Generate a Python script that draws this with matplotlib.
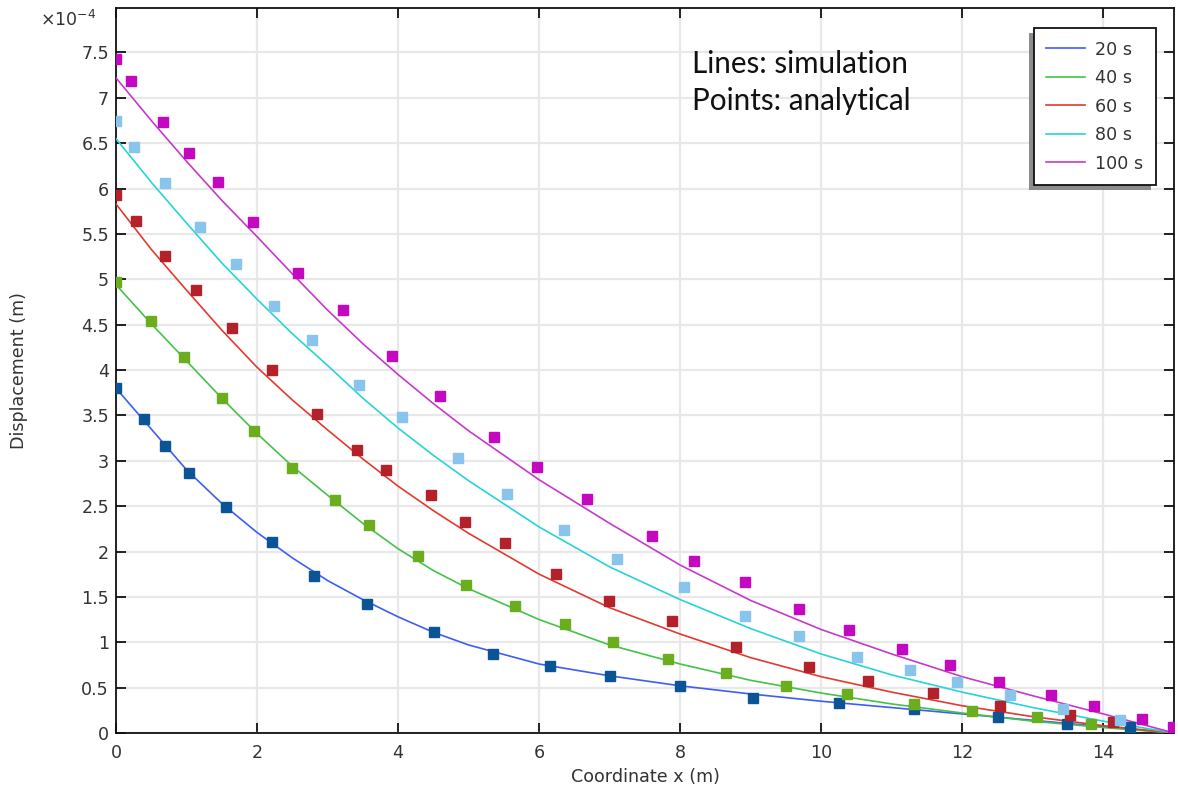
import matplotlib
matplotlib.use("Agg")
import matplotlib.pyplot as plt
from matplotlib.patches import Rectangle
from matplotlib.ticker import FuncFormatter, MultipleLocator

# ---- data (displacement in units of 1e-4 m) ----
series_labels = ["20 s", "40 s", "60 s", "80 s", "100 s"]

# simulation lines
line_x = [0, 0.5, 1, 1.5, 2, 2.5, 3, 3.5, 4, 4.5, 5, 6, 7, 8, 9, 10, 11, 12, 13, 14, 15]
sim_20 = [3.80, 3.35, 2.90, 2.53, 2.21, 1.93, 1.68, 1.47, 1.28, 1.11, 0.97, 0.76, 0.63, 0.52, 0.43, 0.35, 0.28, 0.21, 0.14, 0.07, 0.0]
sim_40 = [4.94, 4.51, 4.10, 3.69, 3.30, 2.94, 2.62, 2.31, 2.03, 1.79, 1.59, 1.25, 0.97, 0.76, 0.58, 0.44, 0.32, 0.22, 0.13, 0.06, 0.0]
sim_60 = [5.83, 5.33, 4.88, 4.44, 4.03, 3.67, 3.34, 3.02, 2.72, 2.45, 2.20, 1.75, 1.38, 1.09, 0.83, 0.62, 0.45, 0.30, 0.18, 0.08, 0.0]
sim_80 = [6.55, 6.07, 5.62, 5.18, 4.78, 4.40, 4.05, 3.69, 3.36, 3.06, 2.78, 2.27, 1.83, 1.47, 1.15, 0.87, 0.64, 0.45, 0.28, 0.13, 0.0]
sim_100 = [7.22, 6.75, 6.30, 5.87, 5.47, 5.06, 4.66, 4.29, 3.95, 3.63, 3.33, 2.79, 2.31, 1.85, 1.46, 1.14, 0.87, 0.62, 0.41, 0.21, 0.0]

# analytical points
ana_20_x = [0.0, 0.39, 0.70, 1.03, 1.56, 2.21, 2.81, 3.56, 4.51, 5.34, 6.16, 7.01, 7.99, 9.03, 10.25, 11.31, 12.50, 13.48, 14.38]
ana_20_y = [3.80, 3.46, 3.16, 2.87, 2.49, 2.10, 1.73, 1.42, 1.11, 0.87, 0.74, 0.63, 0.52, 0.39, 0.33, 0.26, 0.18, 0.10, 0.07]

ana_40_x = [0.0, 0.50, 0.96, 1.50, 1.95, 2.50, 3.10, 3.58, 4.28, 4.96, 5.65, 6.36, 7.04, 7.82, 8.65, 9.50, 10.37, 11.31, 12.13, 13.06, 13.83]
ana_40_y = [4.97, 4.54, 4.14, 3.69, 3.33, 2.92, 2.57, 2.29, 1.95, 1.63, 1.40, 1.20, 1.00, 0.82, 0.66, 0.52, 0.43, 0.32, 0.24, 0.18, 0.10]

ana_60_x = [0.0, 0.29, 0.70, 1.14, 1.65, 2.21, 2.85, 3.42, 3.83, 4.46, 4.95, 5.52, 6.24, 6.99, 7.88, 8.79, 9.83, 10.66, 11.58, 12.54, 13.52, 14.14]
ana_60_y = [5.93, 5.64, 5.26, 4.88, 4.46, 4.00, 3.52, 3.12, 2.90, 2.62, 2.33, 2.09, 1.75, 1.45, 1.23, 0.95, 0.73, 0.57, 0.44, 0.30, 0.20, 0.12]

ana_80_x = [0.0, 0.25, 0.70, 1.19, 1.70, 2.24, 2.78, 3.45, 4.05, 4.85, 5.55, 6.35, 7.11, 8.05, 8.92, 9.69, 10.50, 11.26, 11.93, 12.68, 13.42, 14.24]
ana_80_y = [6.75, 6.46, 6.06, 5.58, 5.17, 4.71, 4.33, 3.84, 3.48, 3.03, 2.63, 2.24, 1.92, 1.61, 1.29, 1.07, 0.84, 0.69, 0.56, 0.42, 0.26, 0.14]

ana_100_x = [0.0, 0.21, 0.66, 1.04, 1.44, 1.94, 2.58, 3.22, 3.91, 4.60, 5.36, 5.97, 6.68, 7.60, 8.20, 8.92, 9.69, 10.39, 11.14, 11.83, 12.52, 13.26, 13.86, 14.54, 14.99]
ana_100_y = [7.43, 7.18, 6.73, 6.39, 6.07, 5.63, 5.07, 4.66, 4.16, 3.71, 3.26, 2.93, 2.58, 2.17, 1.90, 1.66, 1.37, 1.14, 0.93, 0.75, 0.56, 0.42, 0.30, 0.15, 0.07]

x_ticks = [0, 2, 4, 6, 8, 10, 12, 14]

sims = [sim_20, sim_40, sim_60, sim_80, sim_100]
anas = [(ana_20_x, ana_20_y), (ana_40_x, ana_40_y), (ana_60_x, ana_60_y),
        (ana_80_x, ana_80_y), (ana_100_x, ana_100_y)]

line_colors = ["#3d5ef5", "#44c24a", "#e23a30", "#27d3d8", "#c63acb"]
marker_colors = ["#0b5596", "#6aae1f", "#b3222a", "#88c4ec", "#c408c0"]

FS = 12.6
TXT = "#333333"

# ---- figure ----
W, H = 1178, 793
fig = plt.figure(figsize=(W / 100, H / 100), dpi=100)
ax_l, ax_r, ax_t, ax_b = 116, 1174, 8, 733
ax = fig.add_axes([ax_l / W, 1 - ax_b / H, (ax_r - ax_l) / W, (ax_b - ax_t) / H])

for sim, lc, lab in zip(sims, line_colors, series_labels):
    ax.plot(line_x, sim, color=lc, lw=1.2, label=lab, zorder=3)
for (px, py), mc in zip(anas, marker_colors):
    ax.plot(px, py, ls="none", marker="s", ms=7.2, color=mc, mec=mc, zorder=4)

ax.set_xlim(0, 15)
ax.set_ylim(0, 7.99)
ax.set_xticks(x_ticks)
ax.yaxis.set_major_locator(MultipleLocator(0.5))
ax.yaxis.set_major_formatter(FuncFormatter(lambda v, p: "%g" % round(v, 2)))
ax.xaxis.set_major_formatter(FuncFormatter(lambda v, p: "%g" % v))

ax.grid(True, color="#e8e8e8", lw=1.6, zorder=0)
ax.set_axisbelow(True)
for s in ax.spines.values():
    s.set_linewidth(1.3)
    s.set_color("#111111")
ax.tick_params(direction="in", length=7, width=1.3, labelsize=FS,
               top=True, right=True, colors="#111111", labelcolor=TXT)
ax.tick_params(axis="y", pad=5)
ax.tick_params(axis="x", pad=8)

ax.set_xlabel("Coordinate x (m)", fontsize=FS, color=TXT, labelpad=4)
ax.set_ylabel("Displacement (m)", fontsize=FS, color=TXT)
ax.yaxis.set_label_coords((28 - ax_l) / (ax_r - ax_l), 0.5)

fig.text(40 / W, 1 - 20 / H, r"$\times$10$^{-4}$", fontsize=12.5, color=TXT,
         ha="left", va="center")

fig.text(692 / W, 1 - 73 / H, "Lines: simulation", fontsize=21.3, family="Lato",
         ha="left", va="baseline", color="#111111")
fig.text(692 / W, 1 - 110 / H, "Points: analytical", fontsize=21.3, family="Lato",
         ha="left", va="baseline", color="#111111")

leg = ax.legend(loc="upper right", bbox_to_anchor=(1156 / W, 1 - 28 / H),
                bbox_transform=fig.transFigure, fontsize=FS, frameon=True,
                fancybox=False, shadow=False,
                edgecolor="#111111", framealpha=1, handlelength=2.2,
                labelspacing=0.6, borderpad=0.72, handletextpad=0.6,
                borderaxespad=0)
leg.get_frame().set_linewidth(1.3)
leg.set_zorder(6)
for t in leg.get_texts():
    t.set_color(TXT)

# legend shadow (offset left/down)
fig.canvas.draw()
bb = leg.get_window_extent()
shadow = Rectangle((bb.x0 - 5, bb.y0 - 5), bb.width, bb.height,
                   transform=None, facecolor="#8c8c8c", edgecolor="none",
                   zorder=5.5, clip_on=False)
ax.add_artist(shadow)

fig.savefig("out.png", dpi=100)
